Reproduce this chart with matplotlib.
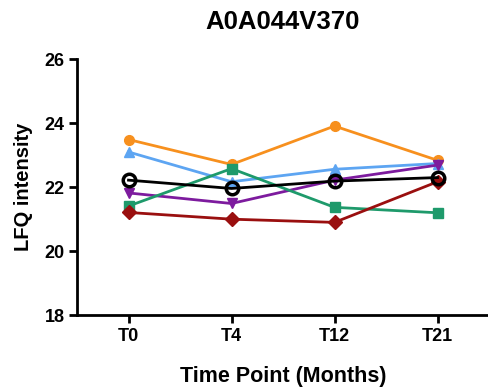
import matplotlib
matplotlib.use("Agg")
import matplotlib.pyplot as plt

plt.rcParams["font.family"] = ["Liberation Sans", "DejaVu Sans"]
plt.rcParams["font.weight"] = "bold"

time_points = ["T0", "T4", "T12", "T21"]

orange = [23.49, 22.71, 23.91, 22.84]
blue = [23.10, 22.17, 22.56, 22.74]
purple = [21.82, 21.49, 22.22, 22.69]
green = [21.41, 22.58, 21.37, 21.20]
red = [21.21, 21.00, 20.90, 22.17]
black = [22.22, 21.96, 22.19, 22.30]

series = [
    (orange, "#F7901E", "o"),
    (blue, "#5DA5F2", "^"),
    (purple, "#7D1B9E", "v"),
    (green, "#1E9A6B", "s"),
    (red, "#9A0F0F", "D"),
]

fig = plt.figure(figsize=(4.89, 3.92), dpi=100)
ax = fig.add_axes([0.1575, 0.196, 0.8425, 0.653])

x = range(len(time_points))
for vals, color, marker in series:
    ax.plot(x, vals, color=color, marker=marker, markersize=7, linewidth=2,
            clip_on=False)
# open black circles go on top
ax.plot(x, black, color="black", marker="o", markersize=9, linewidth=2,
        markerfacecolor="none", markeredgewidth=2.5, clip_on=False)

ax.set_xlim(-0.5, 3.5)
ax.set_ylim(18, 26)
ax.set_yticks([18, 20, 22, 24, 26])
ax.set_xticks(list(x))
ax.set_xticklabels(time_points)

for s in ["top", "right"]:
    ax.spines[s].set_visible(False)
for s in ["left", "bottom"]:
    ax.spines[s].set_linewidth(2)
ax.tick_params(width=2, length=6, labelsize=13, pad=3)
for lab in ax.get_xticklabels() + ax.get_yticklabels():
    lab.set_fontweight("bold")

ax.set_title("A0A044V370", fontsize=18.5, fontweight="bold", pad=22)
ax.set_xlabel("Time Point (Months)", fontsize=15.5, fontweight="bold", labelpad=15)
ax.set_ylabel("LFQ intensity", fontsize=14.5, fontweight="bold", labelpad=8)

fig.savefig("out.png", dpi=100)
